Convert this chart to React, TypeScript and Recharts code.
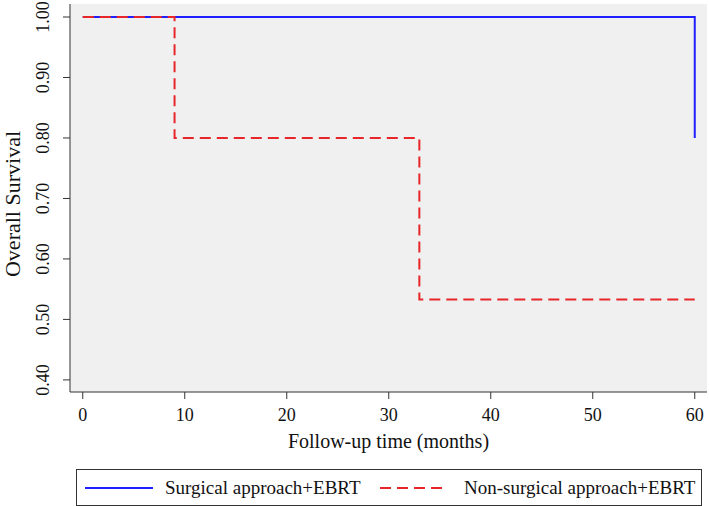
import { LineChart, Line, XAxis, YAxis, CartesianGrid } from 'recharts'

// follow-up months and survival ticks
const monthTicks = [0, 10, 20, 30, 40, 50, 60]
const survivalTicks = [0.4, 0.5, 0.6, 0.7, 0.8, 0.9, 1.0]

// Kaplan-Meier steps
const surgicalTime = [0, 60, 60]
const surgicalSurv = [1, 1, 0.8]
const nonSurgicalTime = [0, 9, 33, 60]
const nonSurgicalSurv = [1, 0.8, 0.533, 0.533]

const seriesNames = ['Surgical approach+EBRT', 'Non-surgical approach+EBRT']

const surgical = surgicalTime.map((t, i) => ({ t, s: surgicalSurv[i] }))
const nonSurgical = nonSurgicalTime.map((t, i) => ({ t, s: nonSurgicalSurv[i] }))

const FONT = '"Liberation Serif", "Times New Roman", serif'
const BLUE = '#1f1fff'
const RED = '#e8262a'
const AXIS = '#333'

const XTick = ({ x, y, payload }: any) => (
  <text x={x} y={y + 20} textAnchor="middle" fontSize={18} fill="#111" fontFamily={FONT}>
    {payload.value}
  </text>
)

const YTick = ({ x, y, payload }: any) => (
  <text
    transform={`translate(${x - 12}, ${y}) rotate(-90)`}
    textAnchor="middle"
    fontSize={18}
    fill="#111"
    fontFamily={FONT}
  >
    {Number(payload.value).toFixed(2)}
  </text>
)

export default function App() {
  return (
    <div style={{ position: 'absolute', left: 0, top: 0, width: 709, height: 506, background: '#fff', fontFamily: FONT }}>
      <LineChart width={709} height={506} margin={{ top: 4, right: 2, left: 0, bottom: 0 }}>
        <CartesianGrid fill="#f0f0f0" stroke="none" horizontal={false} vertical={false} />
        <XAxis
          type="number"
          dataKey="t"
          domain={[-1.25, 61.2]}
          ticks={monthTicks}
          allowDataOverflow
          height={114}
          tickSize={7}
          stroke={AXIS}
          tick={<XTick />}
          label={{
            content: ({ viewBox }: any) => (
              <text
                x={viewBox.x + viewBox.width / 2}
                y={448}
                textAnchor="middle"
                fontSize={20}
                fill="#111"
                fontFamily={FONT}
              >
                Follow-up time (months)
              </text>
            ),
          }}
        />
        <YAxis
          type="number"
          dataKey="s"
          domain={[0.38, 1.0215]}
          ticks={survivalTicks}
          allowDataOverflow
          width={70}
          tickSize={7}
          stroke={AXIS}
          tick={<YTick />}
          label={{
            content: () => (
              <text
                transform="translate(20, 204) rotate(-90)"
                textAnchor="middle"
                fontSize={22}
                fill="#111"
                fontFamily={FONT}
              >
                Overall Survival
              </text>
            ),
          }}
        />
        <Line
          data={surgical}
          dataKey="s"
          name={seriesNames[0]}
          type="stepAfter"
          stroke={BLUE}
          strokeWidth={2}
          dot={false}
          isAnimationActive={false}
        />
        <Line
          data={nonSurgical}
          dataKey="s"
          name={seriesNames[1]}
          type="stepAfter"
          stroke={RED}
          strokeWidth={2}
          strokeDasharray="11 6"
          dot={false}
          isAnimationActive={false}
        />
      </LineChart>

      {/* legend box under the plot, Stata style */}
      <svg
        width={626}
        height={37}
        style={{ position: 'absolute', left: 76, top: 469 }}
      >
        <rect x={0.5} y={0.5} width={625} height={36} fill="#fff" stroke={AXIS} strokeWidth={1} />
        <line x1={9} y1={19} x2={77} y2={19} stroke={BLUE} strokeWidth={2} />
        <text x={89} y={25} fontSize={19} fill="#111" fontFamily={FONT}>{seriesNames[0]}</text>
        <line x1={304} y1={19} x2={368} y2={19} stroke={RED} strokeWidth={2} strokeDasharray="11 6" />
        <text x={388} y={25} fontSize={19} fill="#111" fontFamily={FONT}>{seriesNames[1]}</text>
      </svg>
    </div>
  )
}
